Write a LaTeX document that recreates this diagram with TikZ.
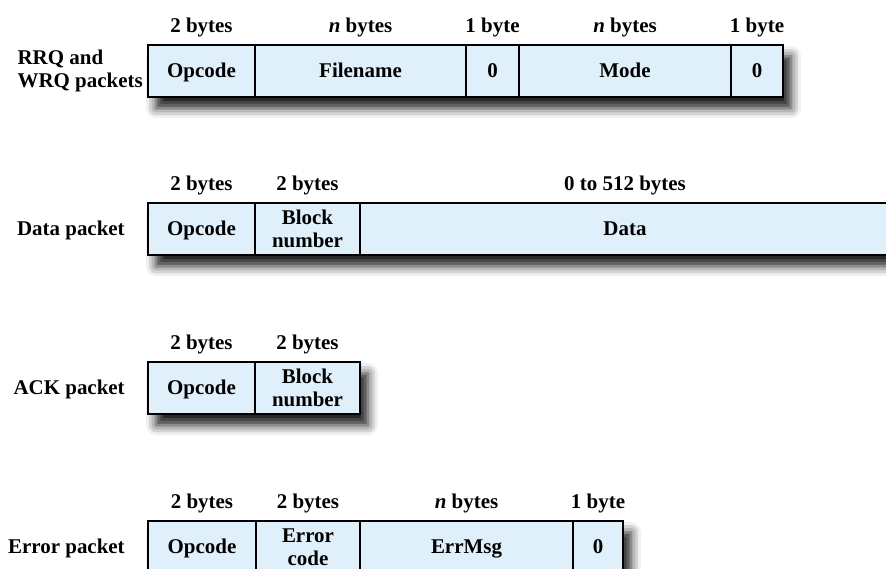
\documentclass[tikz,border=0pt]{standalone}
\usepackage{fontspec}
\setmainfont{Liberation Serif}
\usepackage{xcolor}
\usetikzlibrary{positioning,fit,backgrounds,shadows.blur}
\definecolor{fieldblue}{HTML}{E0F0FB}

\begin{document}
\begin{tikzpicture}[
            font=\fontsize{14.9}{16.5}\selectfont\bfseries,
            field/.style={draw, line width=1.3pt, rectangle, fill=fieldblue, minimum height=1.3cm, inner sep=0pt, outer sep=0pt, align=center},
            oneline/.style={text height=9.9pt, text depth=0pt},
            bytes/.style={anchor=base, inner sep=0pt},
            rowname/.style={inner sep=0pt, align=left},
            pkt/.style={rectangle, inner sep=0pt, fill=fieldblue, blur shadow={shadow xshift=0.2cm, shadow yshift=-0.28cm, shadow blur radius=0.25cm, shadow opacity=90}}
        ]
            \useasboundingbox (0,0) rectangle (22.15,-14.2);

            % RRQ and WRQ
            \node[field, oneline, minimum width=2.675cm, anchor=north west] (op1) at (3.7,-1.125) {Opcode};
            \node[field, oneline, minimum width=5.275cm, right=0pt of op1] (fname) {Filename};
            \node[field, oneline, minimum width=1.325cm, right=0pt of fname] (zeroa) {0};
            \node[field, oneline, minimum width=5.3cm, right=0pt of zeroa] (mode) {Mode};
            \node[field, oneline, minimum width=1.3cm, right=0pt of mode] (zerob) {0};
            \begin{scope}[on background layer]
                \node[pkt, fit=(op1)(zerob)] (rrqpkt) {};
            \end{scope}
            \node[rowname, left=0.125cm of op1] (rrq) {RRQ and\\WRQ packets};
            \node[bytes] (op1b) at ([yshift=0.31cm]op1.north) {2 bytes};
            \node[bytes] (fnameb) at ([yshift=0.31cm]fname.north) {{\itshape n} bytes};
            \node[bytes] (zeroab) at ([yshift=0.31cm]zeroa.north) {1 byte};
            \node[bytes] (modeb) at ([yshift=0.31cm]mode.north) {{\itshape n} bytes};
            \node[bytes] (zerobb) at ([yshift=0.31cm]zerob.north) {1 byte};

            % Data
            \node[field, oneline, minimum width=2.675cm, anchor=north west] (op2) at (3.7,-5.075) {Opcode};
            \node[field, minimum width=2.625cm, right=0pt of op2] (blk2) {Block\\number};
            \node[field, oneline, minimum width=13.25cm, right=0pt of blk2] (data) {Data};
            \begin{scope}[on background layer]
                \node[pkt, fit=(op2)(data)] (datapkt) {};
            \end{scope}
            \node[rowname, oneline, left=0.575cm of op2] (dataname) {Data packet};
            \node[bytes] (op2b) at ([yshift=0.31cm]op2.north) {2 bytes};
            \node[bytes] (blk2b) at ([yshift=0.31cm]blk2.north) {2 bytes};
            \node[bytes] (datab) at ([yshift=0.31cm]data.north) {0 to 512 bytes};

            % ACK
            \node[field, oneline, minimum width=2.675cm, anchor=north west] (op3) at (3.7,-9.05) {Opcode};
            \node[field, minimum width=2.625cm, right=0pt of op3] (blk3) {Block\\number};
            \begin{scope}[on background layer]
                \node[pkt, fit=(op3)(blk3)] (ackpkt) {};
            \end{scope}
            \node[rowname, oneline, left=0.575cm of op3] (ackname) {ACK packet};
            \node[bytes] (op3b) at ([yshift=0.31cm]op3.north) {2 bytes};
            \node[bytes] (blk3b) at ([yshift=0.31cm]blk3.north) {2 bytes};

            % Error
            \node[field, oneline, minimum width=2.7cm, anchor=north west] (op4) at (3.7,-13.025) {Opcode};
            \node[field, minimum width=2.6cm, right=0pt of op4] (ecode) {Error\\code};
            \node[field, oneline, minimum width=5.325cm, right=0pt of ecode] (emsg) {ErrMsg};
            \node[field, oneline, minimum width=1.25cm, right=0pt of emsg] (zeroc) {0};
            \begin{scope}[on background layer]
                \node[pkt, fit=(op4)(zeroc)] (errpkt) {};
            \end{scope}
            \node[rowname, oneline, left=0.575cm of op4] (errname) {Error packet};
            \node[bytes] (op4b) at ([yshift=0.31cm]op4.north) {2 bytes};
            \node[bytes] (ecodeb) at ([yshift=0.31cm]ecode.north) {2 bytes};
            \node[bytes] (emsgb) at ([yshift=0.31cm]emsg.north) {{\itshape n} bytes};
            \node[bytes] (zerocb) at ([yshift=0.31cm]zeroc.north) {1 byte};
        \end{tikzpicture}
\end{document}
